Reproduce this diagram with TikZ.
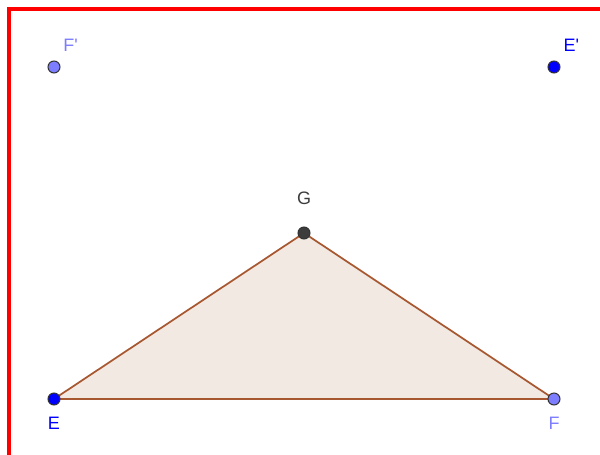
\documentclass[tikz,border=0pt]{standalone}
\usepackage{fontspec}
\setmainfont{Liberation Sans}
\usetikzlibrary{positioning,backgrounds}
\definecolor{ptblue}{RGB}{0,0,255}
\definecolor{ptlight}{RGB}{125,125,255}
\definecolor{ptdark}{RGB}{60,60,60}
\definecolor{segbrown}{RGB}{168,88,48}
\definecolor{triface}{RGB}{242,233,227}
\tikzset{
  ptdot/.style={circle, inner sep=0pt, minimum size=9pt, draw=black!80, line width=0.75pt},
  ptlabel/.style={font=\fontsize{13.5}{15}\selectfont, inner sep=1pt},
  segln/.style={segbrown, line width=1.3pt, line join=round},
  frameln/.style={red, line width=2.4pt},
}

\begin{document}
\begin{tikzpicture}[x=0.75pt,y=-0.75pt]
    \useasboundingbox (0,0) rectangle (600,454);
    \clip (0,0) rectangle (600,454);
    % view frame
    \draw[frameln] (9,9) rectangle (640,500);
    % the points
    \node[ptdot, fill=ptlight] (Fp) at (54,67) {};
    \node[ptdot, fill=ptblue]  (Ep) at (554,67) {};
    \node[ptdot, fill=ptdark]  (G)  at (304,233) {};
    \node[ptdot, fill=ptblue]  (E)  at (54,399) {};
    \node[ptdot, fill=ptlight] (F)  at (554,399) {};
    % labels
    \node[ptlabel, ptlight] (Fplab) at ([xshift=12.5pt,yshift=16.5pt]Fp.center) {F\textquotesingle};
    \node[ptlabel, ptblue]  (Eplab) at ([xshift=13pt,yshift=16.5pt]Ep.center) {E\textquotesingle};
    \node[ptlabel, ptdark, above=20pt of G.center] (Glab) {G};
    \node[ptlabel, ptblue, below=12.5pt of E.center] (Elab) {E};
    \node[ptlabel, ptlight, below=12.5pt of F.center] (Flab) {F};
    % triangle EFG under the points
    \begin{scope}[on background layer]
      \fill[triface] (E.center) -- (F.center) -- (G.center) -- cycle;
      \draw[segln] (E.center) -- (F.center) -- (G.center) -- cycle;
    \end{scope}
\end{tikzpicture}
\end{document}
